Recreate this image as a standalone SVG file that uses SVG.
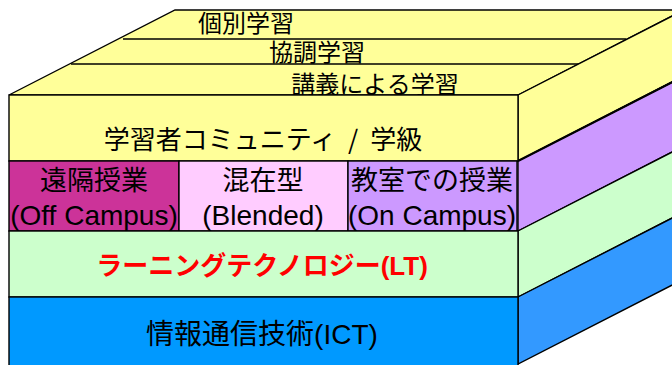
<svg xmlns="http://www.w3.org/2000/svg" width="672" height="365" viewBox="0 0 672 365">
<style>
.s{stroke:#000;stroke-width:1.4;stroke-linejoin:miter}
.y{fill:#FFFF99}
.jp{font-family:"Noto Sans CJK JP","Liberation Sans",sans-serif;fill:#000;text-anchor:middle}
.la{font-family:"Liberation Sans","Noto Sans CJK JP",sans-serif;fill:#000;text-anchor:middle}
</style>
<rect width="672" height="365" fill="#fff"/>
<g id="top-face">
<polygon class="s y" points="9,95 518,95 684,10 175,10"/>
<line class="s" x1="123" y1="39" x2="626" y2="39"/>
<line class="s" x1="71" y1="64" x2="579" y2="64"/>
<line class="s" x1="626" y1="39" x2="626" y2="59"/>
<line class="s" x1="579" y1="64" x2="579" y2="83"/>
<text class="jp" x="246" y="32" font-size="24">個別学習</text>
<text class="jp" x="317" y="61" font-size="24">協調学習</text>
<text class="jp" x="375" y="93" font-size="24">講義による学習</text>
</g>
<g id="side-faces">
<polygon class="s y" points="518,95 684,10 684,76 518,161"/>
<polygon class="s" fill="#CC99FF" points="518,161 684,76 684,146 518,231"/>
<line x1="518" y1="161" x2="684" y2="76" stroke="#000" stroke-width="2.2"/>
<polygon class="s" fill="#CCFFCC" points="518,231 684,146 684,212 518,297"/>
<polygon class="s" fill="#3399FF" points="518,297 684,212 684,279 518,364"/>
</g>
<g id="community">
<rect class="s y" x="9" y="95" width="509" height="66"/>
<text class="jp" x="263" y="149" font-size="26" word-spacing="6">学習者コミュニティ / 学級</text>
</g>
<g id="off-campus">
<rect class="s" fill="#CC3399" x="9" y="161" width="170" height="70"/>
<text class="jp" x="94" y="190" font-size="27">遠隔授業</text>
<text class="la" x="94" y="225" font-size="28">(Off Campus)</text>
</g>
<g id="blended">
<rect class="s" fill="#FFCCFF" x="179" y="161" width="169" height="70"/>
<text class="jp" x="263" y="190" font-size="27">混在型</text>
<text class="la" x="263" y="225" font-size="28">(Blended)</text>
</g>
<g id="on-campus">
<rect class="s" fill="#CC99FF" x="348" y="161" width="169" height="70"/>
<text class="jp" x="432" y="190" font-size="27">教室での授業</text>
<text class="la" x="432" y="225" font-size="28">(On Campus)</text>
</g>
<g id="lt">
<rect class="s" fill="#CCFFCC" x="9" y="231" width="509" height="66"/>
<text class="la" x="262" y="275" font-size="26" font-weight="bold" style="fill:#FF0000">ラーニングテクノロジー(LT)</text>
</g>
<g id="ict">
<rect class="s" fill="#0099FF" x="9" y="297" width="509" height="70"/>
<text class="la" x="262" y="344" font-size="28">情報通信技術(ICT)</text>
</g>
</svg>
